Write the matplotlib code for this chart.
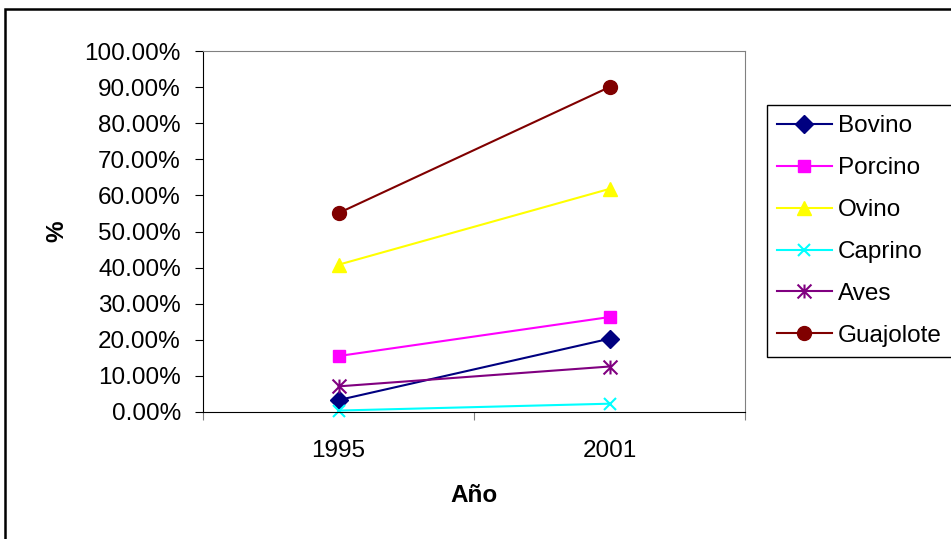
import matplotlib.pyplot as plt
import matplotlib.patches as patches
from matplotlib.path import Path
import numpy as np

plt.rcParams['font.family'] = ['Liberation Sans', 'DejaVu Sans']

# data (percent)
years = ['1995', '2001']
bovino = [3.3, 20.3]
porcino = [15.5, 26.3]
ovino = [40.8, 61.8]
caprino = [0.4, 2.3]
aves = [7.1, 12.6]
guajolote = [55.1, 90.0]

# excel style star marker: x plus a vertical bar
star = Path([(0, -1), (0, 1), (-1, -1), (1, 1), (-1, 1), (1, -1)],
            [Path.MOVETO, Path.LINETO, Path.MOVETO, Path.LINETO, Path.MOVETO, Path.LINETO])

series = [
    ('Bovino', bovino, '#000080', 'D', 9),
    ('Porcino', porcino, '#FF00FF', 's', 9),
    ('Ovino', ovino, '#FFFF00', '^', 10),
    ('Caprino', caprino, '#00FFFF', 'x', 9),
    ('Aves', aves, '#800080', star, 10),
    ('Guajolote', guajolote, '#800000', 'o', 10),
]

fs = 17.5
fig = plt.figure(figsize=(9.51, 5.39), dpi=100)
ax = fig.add_axes([203/951, 1-412/539, 542/951, 361/539])

x = np.arange(len(years)) + 0.5
for name, vals, col, mk, ms in series:
    ax.plot(x, vals, color=col, lw=1.5, marker=mk, markersize=ms,
            markeredgewidth=1.5 if mk in ('x',) or mk is star else 1,
            markerfacecolor=col, markeredgecolor=col, label=name, clip_on=False)

ax.set_xlim(0, 2)
ax.set_ylim(0, 100)
ax.set_yticks(np.arange(0, 101, 10))
ax.set_yticklabels([f'{v:.2f}%' for v in np.arange(0, 101, 10)], fontsize=fs)
ax.set_xticks([0, 1, 2])
ax.set_xticklabels([])
ax.set_xticks(x, minor=True)
ax.set_xticklabels(years, minor=True, fontsize=fs)
ax.tick_params(axis='x', which='minor', length=0, pad=20)
ax.tick_params(axis='x', which='major', length=6, color='#808080', direction='out')
ax.tick_params(axis='y', length=6, pad=10, direction='out')

for s in ('top', 'right'):
    ax.spines[s].set_color('#808080')
ax.spines['left'].set_color('black')
ax.spines['bottom'].set_color('black')

ax.set_ylabel('%', fontsize=fs, fontweight='bold', va='center')
ax.yaxis.set_label_coords((57-203)/542, 0.5)
ax.set_xlabel('Año', fontsize=fs, fontweight='bold', va='center')
ax.xaxis.set_label_coords(0.5, (412-495)/361)

leg = fig.legend(loc='upper left', bbox_to_anchor=(767/951, 1-105/539),
                 bbox_transform=fig.transFigure, borderaxespad=0, fontsize=fs,
                 handlelength=2.24, handletextpad=0.25, labelspacing=0.82,
                 borderpad=0.42, fancybox=False, edgecolor='black', framealpha=1)
leg.get_frame().set_linewidth(1)

# outer chart border
fig.patches.append(patches.Rectangle((5/951, -0.1), 1.2, 1.1-9/539, transform=fig.transFigure,
                                     fill=False, lw=1.8, ec='black'))

fig.savefig('out.png', dpi=100)
